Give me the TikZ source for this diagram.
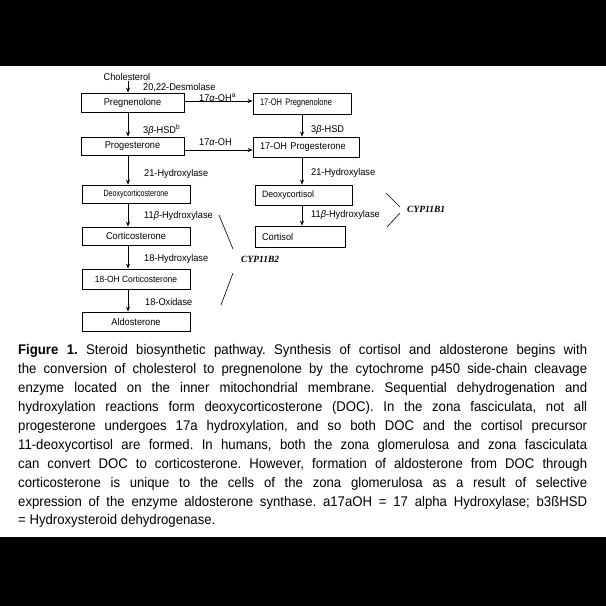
\documentclass[tikz,border=0pt]{standalone}
\usepackage{fontspec}
\setmainfont[FakeStretch=0.94]{Liberation Sans}
\newfontfamily\narrowfont[FakeStretch=0.79]{Liberation Sans}
\newfontfamily\serifbi{Liberation Serif}
\usetikzlibrary{arrows.meta}
\begin{document}
\frenchspacing
\begin{tikzpicture}[x=1pt,y=-1pt,
  box/.style={draw, line width=0.8pt, inner sep=0pt, font=\fontsize{9.8}{10}\selectfont},
  rbox/.style={box, inner xsep=7pt, align=left},
  lab/.style={anchor=west, inner sep=0pt, font=\fontsize{9.8}{10}\selectfont},
  arr/.style={line width=0.8pt, -{Stealth[length=5pt,width=4pt]}},
  cyp/.style={anchor=west, inner sep=0pt, font=\serifbi\bfseries\itshape\fontsize{9.5}{10}\selectfont},
  tick/.style={line width=0.6pt},
  captext/.style={anchor=north west, inner sep=0pt, align=left, font=\fontsize{14}{18.9}\selectfont}]
\useasboundingbox (0,0) rectangle (606,606);
\fill[black] (0,0) rectangle (606,66);
\fill[black] (0,537) rectangle (606,606);

% column guides
\coordinate (lc) at (128,0);
\coordinate (rc) at (302,0);

% left column
\node[lab, anchor=center] (chol) at (127,77) {Cholesterol};
\node[box, minimum width=103pt, minimum height=19pt] (preg) at (132.5,102.5) {Pregnenolone};
\node[box, minimum width=103pt, minimum height=18pt] (prog) at (132.5,146) {Progesterone};
\node[box, minimum width=108pt, minimum height=18pt, font=\narrowfont\fontsize{9.0}{9}\selectfont] (doc) at (136,194) {Deoxycorticosterone};
\node[box, minimum width=108pt, minimum height=18pt] (cort) at (136,236) {Corticosterone};
\node[box, minimum width=108pt, minimum height=20pt, font=\fontsize{9}{9}\selectfont] (oh18) at (136,279) {18-OH Corticosterone};
\node[box, minimum width=108pt, minimum height=19pt] (aldo) at (136,321.5) {Aldosterone};

% right column
\node[rbox, text width=84pt, minimum height=21pt, font=\narrowfont\fontsize{9.5}{9}\selectfont] (ohpreg) at (302,103.5) {17-OH Pregnenolone};
\node[rbox, text width=92pt, minimum height=20pt] (ohprog) at (306,147) {17-OH Progesterone};
\node[rbox, text width=83pt, minimum height=20pt, font=\fontsize{9.25}{9}\selectfont] (deox) at (303.5,195) {Deoxycortisol};
\node[rbox, text width=76pt, minimum height=21pt] (cortisol) at (300,236.5) {Cortisol};

% vertical arrows left
\draw[arr] (chol.south -| lc) -- (preg.north -| lc);
\draw[arr] (preg.south -| lc) -- (prog.north -| lc);
\draw[arr] (prog.south -| lc) -- (doc.north -| lc);
\draw[arr] (doc.south -| lc) -- (cort.north -| lc);
\draw[arr] (cort.south -| lc) -- (oh18.north -| lc);
\draw[arr] (oh18.south -| lc) -- (aldo.north -| lc);

% vertical arrows right
\draw[arr] (ohpreg.south -| rc) -- (ohprog.north -| rc);
\draw[arr] (ohprog.south -| rc) -- (deox.north -| rc);
\draw[arr] (deox.south -| rc) -- (cortisol.north -| rc);

% horizontal arrows
\coordinate (h1) at ([yshift=1.5pt]preg.east);
\coordinate (h2) at ([yshift=-4pt]prog.east);
\draw[arr] (h1) -- (ohpreg.west |- h1);
\draw[arr] (h2) -- (ohprog.west |- h2);

% enzyme labels
\node[lab] (l1) at (143,88) {20,22-Desmolase};
\node[lab] (l2) at (199,97.5) {17\textit{α}-OH\textsuperscript{a}};
\node[lab] (l3) at (143,130) {3\textit{β}-HSD\textsuperscript{b}};
\node[lab] (l4) at (199,142) {17\textit{α}-OH};
\node[lab] (l5) at (311,130) {3\textit{β}-HSD};
\node[lab] (l6) at (144,174) {21-Hydroxylase};
\node[lab] (l7) at (144,216) {11\textit{β}-Hydroxylase};
\node[lab] (l8) at (144,259) {18-Hydroxylase};
\node[lab] (l9) at (145,302) {18-Oxidase};
\node[lab] (l10) at (311,173) {21-Hydroxylase};
\node[lab] (l11) at (311,215) {11\textit{β}-Hydroxylase};

% CYP labels
\node[cyp] (b1) at (407,209) {CYP11B1};
\node[cyp] (b2) at (241,259) {CYP11B2};
\draw[tick] (386,193) -- (400,207);
\draw[tick] (400,213) -- (387,227);
\draw[tick] (219,215) -- (233,249);
\draw[tick] (233,273) -- (221,305);

% caption
\node[captext] (caption) at (18,344.5) {%
\makebox[569pt][s]{\textbf{Figure 1.} Steroid biosynthetic pathway. Synthesis of cortisol and aldosterone begins with}\\
\makebox[569pt][s]{the conversion of cholesterol to pregnenolone by the cytochrome p450 side-chain cleavage}\\
\makebox[569pt][s]{enzyme located on the inner mitochondrial membrane. Sequential dehydrogenation and}\\
\makebox[569pt][s]{hydroxylation reactions form deoxycorticosterone (DOC). In the zona fasciculata, not all}\\
\makebox[569pt][s]{progesterone undergoes 17a hydroxylation, and so both DOC and the cortisol precursor}\\
\makebox[569pt][s]{11-deoxycortisol are formed. In humans, both the zona glomerulosa and zona fasciculata}\\
\makebox[569pt][s]{can convert DOC to corticosterone. However, formation of aldosterone from DOC through}\\
\makebox[569pt][s]{corticosterone is unique to the cells of the zona glomerulosa as a result of selective}\\
\makebox[569pt][s]{expression of the enzyme aldosterone synthase. a17aOH = 17 alpha Hydroxylase; b3ßHSD}\\
\makebox[569pt][l]{= Hydroxysteroid dehydrogenase.}};
\end{tikzpicture}
\end{document}
